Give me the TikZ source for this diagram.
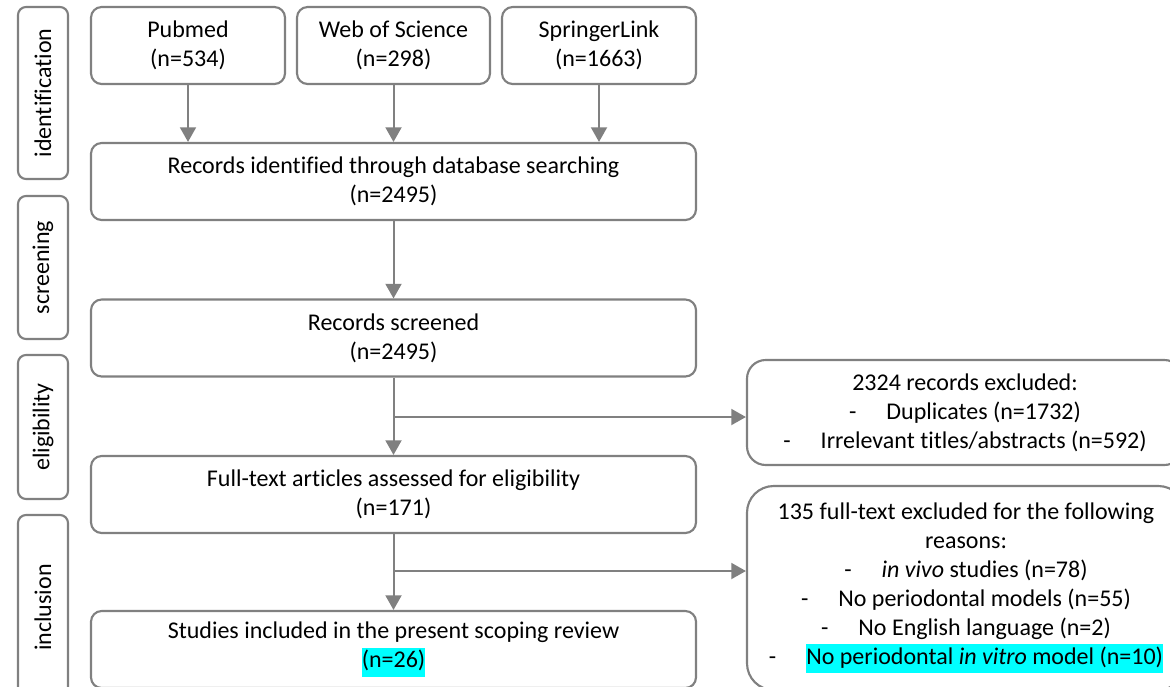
\documentclass[tikz,border=0pt]{standalone}
\usepackage{fontspec}
\setmainfont{Carlito}[Ligatures=CommonOff]
\usetikzlibrary{arrows.meta}
\definecolor{linegray}{RGB}{128,128,128}
\definecolor{marker}{RGB}{0,255,255}
\newcommand{\hl}[1]{{\setlength{\fboxsep}{0pt}\colorbox{marker}{\strut #1}}}
\newcommand{\dashitem}{-\hspace{1.25em}}
\begin{document}
\begin{tikzpicture}[x=0.75pt, y=-0.75pt, line width=1.6pt, font=\fontsize{18}{21.75}\selectfont, main node/.style={draw=linegray,rounded corners=8pt,align=center,inner sep=0pt,minimum height=57.75pt}, side node/.style={draw=linegray,rounded corners=6pt,rotate=90,inner sep=0pt,minimum height=37.5pt}, excl node/.style={main node,rounded corners=14pt}]
\useasboundingbox (0,0) rectangle (1170,686);
\begin{scope}
\node[side node, minimum width=129pt] (s1) at (43,93) {identification};%1
\node[side node, minimum width=107.25pt] (s2) at (43,267.5) {screening};%2
\node[side node, minimum width=108pt] (s3) at (43,427) {eligibility};%3
\node[side node, minimum width=138.75pt] (s4) at (43,607.5) {inclusion};%4
\node[main node, minimum width=145.5pt] (pubmed) at (188,45.5) {Pubmed\\(n=534)};%5
\node[main node, minimum width=144.75pt] (wos) at (393.5,45.5) {Web of Science\\(n=298)};%6
\node[main node, minimum width=145.5pt] (springer) at (599,45.5) {SpringerLink\\(n=1663)};%7
\node[main node, minimum width=453.75pt] (ident) at (393.5,181.5) {Records identified through database searching\\(n=2495)};%8
\node[main node, minimum width=453.75pt] (screened) at (393.5,338) {Records screened\\(n=2495)};%9
\node[main node, minimum width=453.75pt] (fulltext) at (393.5,494.5) {Full-text articles assessed for eligibility\\(n=171)};%10
\node[main node, minimum width=453.75pt] (studies) at (393.5,649.5) {Studies included in the present scoping review\\\hl{(n=26)}};%11
\node[excl node, minimum width=327pt, minimum height=78.75pt] (excl1) at (965,412.5) {2324 records excluded:\\\dashitem Duplicates (n=1732)\\\dashitem Irrelevant titles/abstracts (n=592)};%12
\node[excl node, rounded corners=20pt, minimum width=328.5pt, minimum height=153pt] (excl2) at (966,588) {135 full-text excluded for the following\\reasons:\\\dashitem\textit{in vivo} studies (n=78)\\\dashitem No periodontal models (n=55)\\\dashitem No English language (n=2)\\\dashitem\hl{No periodontal \textit{in vitro} model (n=10)}};%13
\coordinate (b1) at (393.5,417);
\coordinate (b2) at (393.5,571);
\end{scope}
\begin{scope}[every edge/.style={draw=linegray,line width=1.5pt,-{Triangle[length=11pt,width=12pt]}}]
\draw (pubmed) edge (pubmed |- ident.north);
\draw (wos) edge (ident);
\draw (springer) edge (springer |- ident.north);
\draw (ident) edge (screened);
\draw (screened) edge (fulltext);
\draw (fulltext) edge (studies);
\draw (b1) edge (b1 -| excl1.west);
\draw (b2) edge (b2 -| excl2.west);
\end{scope}
\end{tikzpicture}
\end{document}
